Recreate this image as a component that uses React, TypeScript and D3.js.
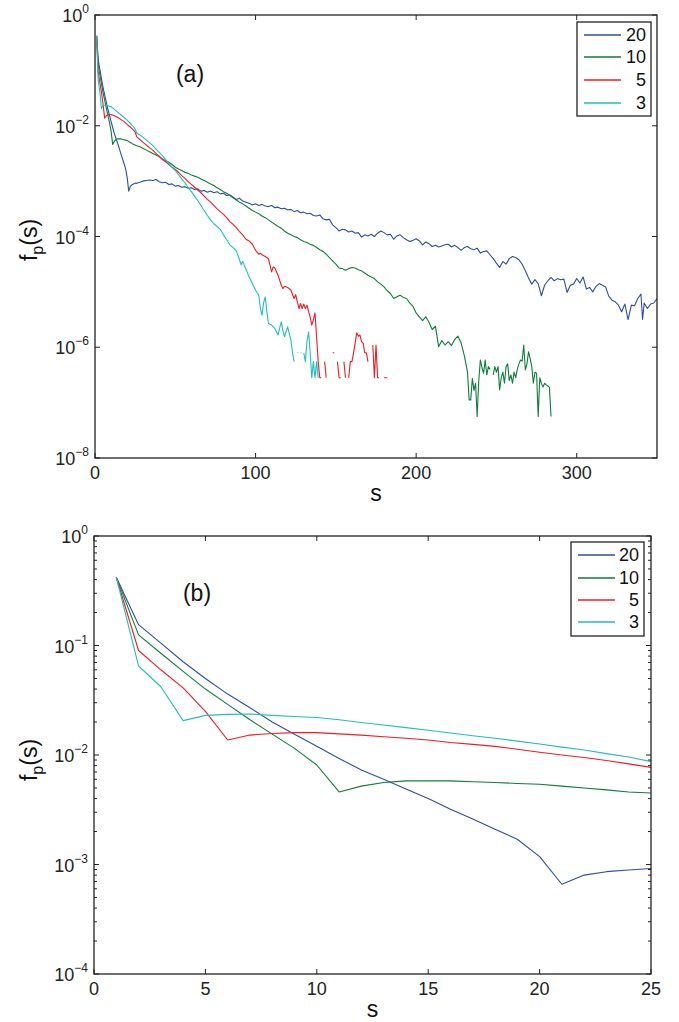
import React from "react";
import * as d3 from "d3";

const sizes = ["20", "10", "5", "3"];
const colors = ["#2c4ea3", "#0e7d3a", "#ee1c25", "#1fbfc0"];

// panel (b): s = 1..25
const sSmall = [1, 2, 3, 4, 5, 6, 7, 8, 9, 10, 11, 12, 13, 14, 15, 16, 17, 18, 19, 20, 21, 22, 23, 24, 25];
const blueSmall = [0.42, 0.155, 0.105, 0.071, 0.05, 0.036, 0.027, 0.02, 0.0155, 0.012, 0.0093, 0.0073, 0.006, 0.0049, 0.004, 0.0032, 0.0026, 0.0021, 0.0017, 0.00118, 0.00066, 0.0008, 0.00086, 0.00089, 0.00092];
const greenSmall = [0.42, 0.125, 0.085, 0.058, 0.04, 0.029, 0.021, 0.0155, 0.0115, 0.0081, 0.0046, 0.0052, 0.0056, 0.0058, 0.0058, 0.0058, 0.0057, 0.0056, 0.0055, 0.0054, 0.0052, 0.005, 0.0048, 0.0046, 0.0045];
const redSmall = [0.42, 0.09, 0.06, 0.041, 0.025, 0.0137, 0.0152, 0.0157, 0.016, 0.016, 0.0156, 0.0152, 0.0147, 0.0142, 0.0137, 0.013, 0.0125, 0.012, 0.0113, 0.0106, 0.01, 0.0095, 0.0089, 0.0083, 0.0077];
const cyanSmall = [0.42, 0.065, 0.042, 0.0206, 0.023, 0.0235, 0.0237, 0.023, 0.0225, 0.022, 0.021, 0.0198, 0.0188, 0.0178, 0.0168, 0.0159, 0.015, 0.0142, 0.0134, 0.0126, 0.0118, 0.0111, 0.0103, 0.0096, 0.0087];

// panel (a) tails beyond s = 25, as [s, log10 f]; null = no events
const blueTail = [[26,-3.04],[28,-3.02],[30,-3.0],[32,-2.99],[34,-2.98],[36,-2.99],[38,-2.97],[40,-3.01],[42,-3.03],[44,-3.02],[46,-3.06],[48,-3.05],[50,-3.09],[52,-3.08],[54,-3.11],[56,-3.1],[58,-3.13],[60,-3.12],[62,-3.15],[64,-3.14],[66,-3.18],[68,-3.17],[70,-3.2],[72,-3.18],[74,-3.21],[76,-3.19],[78,-3.23],[80,-3.22],[82,-3.26],[84,-3.25],[86,-3.29],[88,-3.33],[90,-3.31],[92,-3.36],[94,-3.38],[96,-3.4],[98,-3.43],[100,-3.41],[102,-3.44],[104,-3.42],[106,-3.45],[108,-3.46],[110,-3.44],[112,-3.48],[114,-3.47],[116,-3.5],[118,-3.49],[120,-3.52],[122,-3.51],[124,-3.55],[126,-3.53],[128,-3.57],[130,-3.56],[132,-3.59],[134,-3.58],[136,-3.62],[138,-3.63],[140,-3.61],[142,-3.68],[144,-3.7],[146,-3.69],[148,-3.79],[150,-3.84],[152,-3.9],[154,-3.87],[156,-3.88],[158,-3.92],[160,-3.9],[162,-3.94],[164,-3.93],[166,-4.01],[168,-3.97],[170,-3.99],[172,-3.96],[174,-4.0],[176,-3.94],[178,-3.9],[180,-3.93],[182,-3.97],[184,-3.96],[186,-4.05],[188,-3.99],[190,-3.97],[192,-4.02],[194,-4.06],[196,-4.09],[198,-4.07],[200,-4.04],[202,-4.08],[204,-4.15],[206,-4.1],[208,-4.13],[210,-4.18],[212,-4.16],[214,-4.19],[216,-4.17],[218,-4.15],[220,-4.14],[222,-4.19],[224,-4.16],[226,-4.2],[228,-4.25],[230,-4.2],[232,-4.18],[234,-4.22],[236,-4.24],[238,-4.21],[240,-4.3],[242,-4.27],[244,-4.26],[246,-4.33],[248,-4.4],[250,-4.48],[252,-4.56],[254,-4.45],[256,-4.5],[258,-4.4],[260,-4.36],[262,-4.38],[264,-4.42],[266,-4.5],[268,-4.62],[270,-4.75],[272,-4.86],[274,-4.78],[276,-4.85],[278,-5.07],[280,-4.88],[282,-4.8],[284,-4.74],[286,-4.8],[288,-4.76],[290,-4.78],[292,-4.77],[294,-5.01],[296,-4.88],[298,-4.86],[300,-4.76],[302,-4.84],[304,-4.73],[306,-4.95],[308,-4.92],[310,-5.0],[312,-4.9],[314,-4.85],[316,-4.88],[318,-4.91],[320,-5.08],[322,-5.15],[324,-5.18],[326,-5.24],[328,-5.36],[330,-5.22],[332,-5.5],[334,-5.24],[336,-5.25],[338,-5.12],[340,-5.04],[341,-5.5],[342,-5.2],[344,-5.3],[346,-5.22],[348,-5.2],[350,-5.12]];

const greenTail = [[26,-2.36],[28,-2.38],[30,-2.41],[32,-2.44],[34,-2.47],[36,-2.5],[38,-2.53],[40,-2.56],[42,-2.6],[44,-2.63],[46,-2.66],[48,-2.7],[50,-2.75],[52,-2.78],[54,-2.81],[56,-2.84],[58,-2.86],[60,-2.89],[62,-2.91],[64,-2.93],[66,-2.96],[68,-2.99],[70,-3.02],[72,-3.05],[74,-3.08],[76,-3.12],[78,-3.15],[80,-3.19],[82,-3.22],[84,-3.26],[86,-3.3],[88,-3.34],[90,-3.38],[92,-3.41],[94,-3.45],[96,-3.49],[98,-3.53],[100,-3.56],[102,-3.59],[104,-3.63],[106,-3.66],[108,-3.7],[110,-3.74],[112,-3.78],[114,-3.82],[116,-3.85],[118,-3.9],[120,-3.94],[122,-3.97],[124,-4.0],[126,-4.02],[128,-4.06],[130,-4.09],[132,-4.11],[134,-4.14],[136,-4.16],[138,-4.2],[140,-4.24],[142,-4.27],[144,-4.32],[146,-4.38],[148,-4.44],[150,-4.5],[152,-4.57],[154,-4.58],[156,-4.61],[158,-4.58],[160,-4.56],[162,-4.57],[164,-4.6],[166,-4.62],[168,-4.66],[170,-4.7],[172,-4.73],[174,-4.76],[176,-4.82],[178,-4.86],[180,-4.91],[182,-4.98],[184,-5.03],[186,-5.12],[188,-5.09],[190,-5.06],[192,-5.1],[194,-5.12],[196,-5.2],[198,-5.26],[200,-5.38],[202,-5.45],[204,-5.52],[206,-5.45],[208,-5.55],[210,-5.68],[212,-5.62],[214,-5.99],[216,-5.88],[218,-5.96],[220,-5.9],[222,-5.97],[224,-5.86],[226,-5.8],[228,-5.92],[230,-6.15],[232,-6.45],[233,-6.95],[234,-6.95],[235,-6.56],[236,-6.78],[237,-6.65],[238,-7.25],[239,-6.6],[240,-6.23],[241,-6.37],[242,-6.47],[243,-6.23],[244,-6.5],[245,-6.35],[246,-6.4],[247,null],[248,-6.5],[249,-6.35],[250,-6.45],[251,-6.35],[252,-6.77],[253,-6.55],[254,-6.45],[255,-6.65],[256,-6.35],[257,-6.3],[258,-6.6],[259,-6.5],[260,-6.65],[261,-6.45],[262,-6.55],[263,-6.4],[264,-6.3],[265,-6.23],[266,-6.25],[267,-5.96],[268,-6.41],[269,-6.3],[270,-6.08],[271,-6.2],[272,-6.35],[273,-6.65],[274,-6.45],[275,-6.47],[276,-7.25],[277,-6.55],[278,-6.65],[279,-6.72],[280,-6.65],[281,-6.68],[282,-6.7],[283,-6.72],[284,-7.25]];

const redTail = [[26,-2.2],[28,-2.25],[30,-2.3],[32,-2.35],[34,-2.4],[36,-2.44],[38,-2.5],[40,-2.55],[42,-2.61],[44,-2.65],[46,-2.7],[48,-2.75],[50,-2.79],[52,-2.84],[54,-2.9],[56,-2.95],[58,-3.01],[60,-3.06],[62,-3.11],[64,-3.16],[66,-3.21],[68,-3.27],[70,-3.33],[72,-3.38],[74,-3.44],[76,-3.5],[78,-3.55],[80,-3.6],[82,-3.66],[84,-3.73],[86,-3.78],[88,-3.84],[90,-3.91],[92,-3.97],[94,-4.05],[96,-4.08],[98,-4.14],[100,-4.25],[102,-4.32],[103,-4.3],[104,-4.33],[106,-4.36],[108,-4.4],[110,-4.64],[111,-4.55],[112,-4.57],[114,-4.7],[116,-4.88],[117,-4.94],[118,-4.9],[120,-4.92],[122,-4.97],[124,-5.12],[125,-5.05],[126,-5.18],[127,-5.3],[128,-5.21],[129,-5.3],[130,-5.22],[131,-5.3],[132,-5.24],[133,-5.35],[134,-5.45],[135,-5.6],[136,-5.5],[137,-5.38],[138,-5.81],[139,-6.26],[140,-6.55],[141,-6.55],[142,null],[143,-6.26],[144,-6.55],[145,null],[148,-6.1],[149,-6.1],[150,null],[151,-6.26],[152,-6.55],[153,-6.55],[154,null],[155,-6.26],[156,-6.55],[157,null],[158,-6.55],[159,-6.26],[160,-6.26],[161,-6.1],[162,-5.93],[163,-5.74],[164,-5.8],[165,-5.78],[166,-5.9],[167,-5.93],[168,-6.1],[169,-6.1],[170,-6.26],[171,null],[173,-5.96],[174,-6.55],[175,-5.96],[176,-6.55],[177,-6.55],[178,null],[180,-6.55],[181,-6.55],[182,-6.55]];

const cyanTail = [[26,-2.13],[28,-2.17],[30,-2.21],[32,-2.26],[34,-2.31],[36,-2.36],[38,-2.42],[40,-2.48],[42,-2.54],[44,-2.61],[46,-2.68],[48,-2.75],[50,-2.81],[52,-2.88],[54,-2.96],[56,-3.03],[58,-3.11],[60,-3.19],[62,-3.27],[64,-3.35],[66,-3.44],[68,-3.53],[70,-3.62],[72,-3.7],[74,-3.77],[76,-3.82],[78,-3.87],[80,-3.97],[82,-4.06],[84,-4.15],[86,-4.2],[88,-4.26],[90,-4.42],[91,-4.51],[92,-4.45],[94,-4.59],[96,-4.73],[98,-4.85],[100,-4.97],[101,-5.02],[102,-5.06],[103,-5.3],[104,-5.42],[105,-5.2],[106,-5.09],[107,-5.35],[108,-5.57],[110,-5.6],[111,-5.63],[112,-5.66],[113,-5.72],[114,-5.78],[115,-5.65],[116,-5.54],[117,-5.7],[118,-5.81],[119,-5.72],[120,-5.63],[121,-5.75],[122,-5.87],[123,-6.1],[124,-6.26],[125,null],[126,-6.1],[126.6,-6.1],[127,null],[128,-6.1],[128.6,-6.1],[129,null],[130,-6.1],[131,-6.26],[132,-5.9],[133,-5.72],[134,-6.1],[135,-6.55],[136,-6.26],[137,-6.55],[138,-6.26],[139,-6.55]];

const smallSeries = [blueSmall, greenSmall, redSmall, cyanSmall];
const tails = [blueTail, greenTail, redTail, cyanTail];

const font = "'Liberation Sans', Arial, Helvetica, sans-serif";

type Pt = [number, number | null];

function Panel({ id, x, y, series, xTicks, yLabelled, yMinor, tag, tagX, tagY, leg, yLabelMid }: any) {
  const [xl, xr] = x.range();
  const [yb, yt] = y.range();
  const line = d3
    .line<Pt>()
    .defined((d) => d[1] != null)
    .x((d) => x(d[0]))
    .y((d) => y(d[1] as number));

  const majors = y.ticks().filter((v: number) => Math.abs(Math.log10(v) - Math.round(Math.log10(v))) < 1e-9);

  return (
    <g>
      <defs>
        <clipPath id={id}>
          <rect x={xl} y={yt} width={xr - xl} height={yb - yt} />
        </clipPath>
      </defs>
      <g clipPath={`url(#${id})`}>
        {series.map((pts: Pt[], i: number) => (
          <path key={i} d={line(pts) || ""} fill="none" stroke={colors[i]} strokeWidth={1.1} strokeLinejoin="round" />
        ))}
      </g>
      <rect x={xl} y={yt} width={xr - xl} height={yb - yt} fill="none" stroke="#222" strokeWidth={1.3} />
      {xTicks.map((t: number) => (
        <g key={"x" + t}>
          <line x1={x(t)} x2={x(t)} y1={yb} y2={yb - 5} stroke="#222" />
          <line x1={x(t)} x2={x(t)} y1={yt} y2={yt + 5} stroke="#222" />
          <text x={x(t)} y={yb + 21} textAnchor="middle" fontSize={18} fill="#222">{t}</text>
        </g>
      ))}
      {(yLabelled ? majors.filter((v: number) => Math.round(Math.log10(v)) % 2 === 0) : majors).map((v: number) => (
        <g key={"y" + v}>
          <line x1={xl} x2={xl + 5} y1={y(v)} y2={y(v)} stroke="#222" />
          <line x1={xr} x2={xr - 5} y1={y(v)} y2={y(v)} stroke="#222" />
          <text x={xl - 6} y={y(v) + 7} textAnchor="end" fontSize={18} fill="#222">
            10
            <tspan fontSize={12} dy={-9}>{Math.round(Math.log10(v)) === 0 ? "0" : "\u2212" + Math.abs(Math.round(Math.log10(v)))}</tspan>
          </text>
        </g>
      ))}
      {yMinor &&
        y.ticks().filter((v: number) => !majors.includes(v)).map((v: number) => (
          <g key={"m" + v}>
            <line x1={xl} x2={xl + 3} y1={y(v)} y2={y(v)} stroke="#222" />
            <line x1={xr} x2={xr - 3} y1={y(v)} y2={y(v)} stroke="#222" />
          </g>
        ))}
      <text x={(xl + xr) / 2} y={yb + 43} textAnchor="middle" fontSize={23} fill="#111">s</text>
      <text transform={`translate(37,${yLabelMid}) rotate(-90)`} textAnchor="middle" fontSize={23} fill="#111">
        f<tspan fontSize={16} dy={6}>p</tspan><tspan dy={-6}>(s)</tspan>
      </text>
      <text x={tagX} y={tagY} textAnchor="middle" fontSize={23} fill="#111">{tag}</text>
      <rect x={leg.x} y={leg.y} width={leg.w} height={leg.h} fill="#fff" stroke="#222" strokeWidth={1.3} />
      {sizes.map((s, i) => (
        <g key={s}>
          <line x1={leg.x + 7} x2={leg.x + 44} y1={leg.rows[i]} y2={leg.rows[i]} stroke={colors[i]} strokeWidth={1.4} />
          <text x={leg.x + leg.w - 5} y={leg.rows[i] + 6} textAnchor="end" fontSize={18} fill="#111">{s}</text>
        </g>
      ))}
    </g>
  );
}

export default function App() {
  const xA = d3.scaleLinear().domain([0, 350]).range([95, 657]);
  const yA = d3.scaleLog().domain([1e-8, 1]).range([458, 15]);
  const xB = d3.scaleLinear().domain([0, 25]).range([94, 651]);
  const yB = d3.scaleLog().domain([1e-4, 1]).range([974, 536]);

  const smallPts: Pt[][] = smallSeries.map((vals) => sSmall.map((s, j) => [s, vals[j]] as Pt));
  const fullPts: Pt[][] = smallSeries.map((vals, i) => [
    ...smallPts[i],
    ...tails[i].map((d) => [d[0], d[1] == null ? null : Math.pow(10, d[1] as number)] as Pt),
  ]);

  return (
    <svg width={679} height={1022} style={{ position: "absolute", left: 0, top: 0, background: "#fff" }} fontFamily={font}>
      <rect width={679} height={1022} fill="#fff" />
      <Panel
        id="clipA"
        x={xA}
        y={yA}
        series={fullPts}
        xTicks={[0, 100, 200, 300]}
        yLabelled={true}
        yMinor={false}
        tag="(a)"
        tagX={190}
        tagY={82}
        yLabelMid={240}
        leg={{ x: 577, y: 22, w: 74, h: 94, rows: [35, 57, 80, 103] }}
      />
      <Panel
        id="clipB"
        x={xB}
        y={yB}
        series={smallPts}
        xTicks={[0, 5, 10, 15, 20, 25]}
        yLabelled={false}
        yMinor={true}
        tag="(b)"
        tagX={197}
        tagY={601}
        yLabelMid={760}
        leg={{ x: 571, y: 542, w: 73, h: 94, rows: [555, 578, 600, 622] }}
      />
    </svg>
  );
}
